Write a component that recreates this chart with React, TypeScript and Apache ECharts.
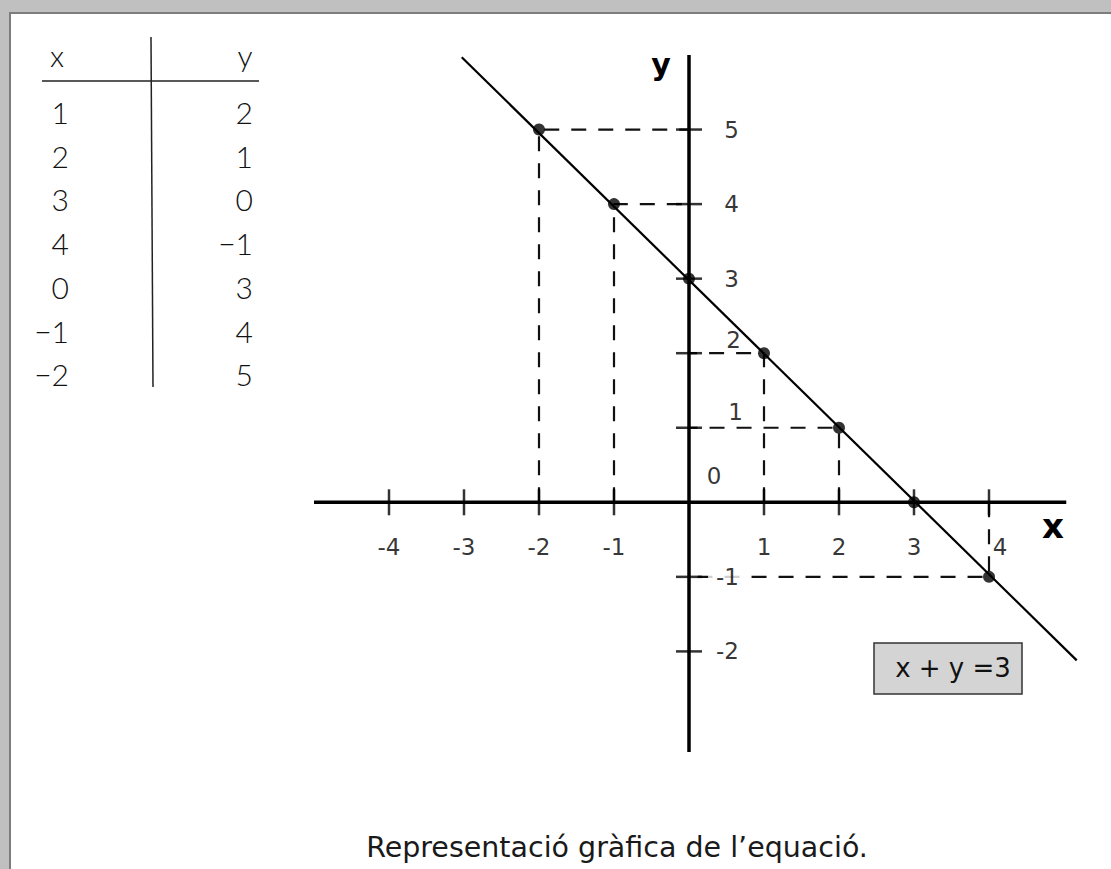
import React, { useEffect, useRef } from 'react';
import * as echarts from 'echarts';

// ---- data ----
const tableX = [1, 2, 3, 4, 0, -1, -2];
const tableY = [2, 1, 0, -1, 3, 4, 5];
const tableHeaders = ['x', 'y'];
const xTickValues = [-4, -3, -2, -1, 1, 2, 3, 4];
const yTickValues = [-2, -1, 1, 2, 3, 4, 5];
const lineXs = [-3.03, 5.17];
const lineYs = [5.97, -2.12];
const xAxisExtent = [-5, 5.03];
const yAxisExtent = [-3.35, 6];
const axisNames = ['x', 'y'];
const originLabel = '0';
const equationText = 'x + y =3';
const captionText = 'Representació gràfica de l’equació.';

export default function App() {
  const ref = useRef<HTMLDivElement>(null);

  useEffect(() => {
    const chart = echarts.init(ref.current!, null, { renderer: 'svg' });
    const FONT_TICK = '"DejaVu Sans", Verdana, sans-serif';
    const FONT_TABLE = 'Lato, "Noto Sans", sans-serif';
    const FONT_CAPTION = '"DejaVu Sans", "Noto Sans", sans-serif';
    const fmtTable = (v: number) => (v < 0 ? '\u2212' + Math.abs(v) : String(v));

    const points = tableX.map((x, i) => [x, tableY[i]]);

    const guideSeries = points
      .filter(([x, y]) => x !== 0 && y !== 0)
      .map(([x, y]) => ({
        type: 'line',
        data: [[x, 0], [x, y], [0, y]],
        symbol: 'none',
        silent: true,
        clip: false,
        z: 2,
        lineStyle: { color: '#111', width: 2.2, type: [15, 12] },
      }));

    // small per-label nudges, as in the printed figure
    const xLabelOffset = (v: number) => (v === 4 ? [11, 45] : [0, 45]);
    const yLabelOffset = (v: number) => (v === 2 ? [54, -13] : v === 1 ? [56, -16] : [52, 0]);

    const tableGraphics: any[] = [];
    const rowTop = 112;
    const rowStep = 43.7;
    tableGraphics.push({
      type: 'text', x: 57, y: 55,
      style: { text: tableHeaders[0], fontSize: 30, fontFamily: FONT_TABLE, fontWeight: 300, fill: '#111', align: 'center', verticalAlign: 'middle' },
    });
    tableGraphics.push({
      type: 'text', x: 245, y: 55,
      style: { text: tableHeaders[1], fontSize: 30, fontFamily: FONT_TABLE, fontWeight: 300, fill: '#111', align: 'center', verticalAlign: 'middle' },
    });
    tableX.forEach((v, i) => {
      tableGraphics.push({
        type: 'text', x: 69, y: rowTop + i * rowStep,
        style: { text: fmtTable(v), fontSize: 30, fontFamily: FONT_TABLE, fontWeight: 300, fill: '#111', align: 'right', verticalAlign: 'middle' },
      });
    });
    tableY.forEach((v, i) => {
      tableGraphics.push({
        type: 'text', x: 253, y: rowTop + i * rowStep,
        style: { text: fmtTable(v), fontSize: 30, fontFamily: FONT_TABLE, fontWeight: 300, fill: '#111', align: 'right', verticalAlign: 'middle' },
      });
    });
    tableGraphics.push({ type: 'line', shape: { x1: 42, y1: 81, x2: 259, y2: 81 }, style: { stroke: '#222', lineWidth: 1.5 } });
    tableGraphics.push({ type: 'line', shape: { x1: 151, y1: 37, x2: 153, y2: 387 }, style: { stroke: '#222', lineWidth: 1.5 } });

    const tickLabelStyle = { fontSize: 23, fontFamily: FONT_TICK, color: '#000' };

    const option: any = {
      animation: false,
      backgroundColor: '#ffffff',
      grid: { left: 314, top: 55, width: 765, height: 745.5, containLabel: false },
      xAxis: {
        type: 'value',
        min: -5,
        max: 5.2,
        interval: 1,
        axisLine: { show: false },
        axisTick: { show: false },
        splitLine: { show: false },
        axisLabel: { show: false },
      },
      yAxis: {
        type: 'value',
        min: -4,
        max: 6,
        interval: 1,
        axisLine: { show: false },
        axisTick: { show: false },
        splitLine: { show: false },
        axisLabel: { show: false },
      },
      series: [
        ...guideSeries,
        {
          type: 'line',
          name: 'x axis',
          data: [[xAxisExtent[0], 0], [xAxisExtent[1], 0]],
          symbol: 'none', silent: true, clip: false, z: 3,
          lineStyle: { color: '#000', width: 3.5 },
        },
        {
          type: 'line',
          name: 'y axis',
          data: [[0, yAxisExtent[0]], [0, yAxisExtent[1]]],
          symbol: 'none', silent: true, clip: false, z: 3,
          lineStyle: { color: '#000', width: 3.5 },
        },
        {
          type: 'scatter',
          name: 'x ticks',
          data: xTickValues.map((v) => ({
            value: [v, 0],
            label: { offset: xLabelOffset(v) },
          })),
          symbol: 'rect', symbolSize: [2.5, 26], silent: true, z: 3,
          itemStyle: { color: '#000' },
          label: {
            show: true,
            position: 'inside',
            align: 'center',
            verticalAlign: 'middle',
            formatter: (p: any) => String(p.value[0]),
            ...tickLabelStyle,
          },
        },
        {
          type: 'scatter',
          name: 'y ticks',
          data: yTickValues.map((v) => ({
            value: [0, v],
            label: { offset: yLabelOffset(v) },
          })),
          symbol: 'rect', symbolSize: [26, 2.5], silent: true, z: 3,
          itemStyle: { color: '#000' },
          label: {
            show: true,
            position: 'inside',
            align: 'right',
            verticalAlign: 'middle',
            backgroundColor: '#ffffff',
            padding: [0, 2, 0, 8],
            formatter: (p: any) => String(p.value[1]),
            ...tickLabelStyle,
          },
        },
        {
          type: 'line',
          name: 'x + y = 3',
          data: lineXs.map((x, i) => [x, lineYs[i]]),
          symbol: 'none', silent: true, clip: false, z: 4,
          lineStyle: { color: '#000', width: 2.2 },
        },
        {
          type: 'scatter',
          name: 'points',
          data: points,
          symbol: 'circle', symbolSize: 12, silent: true, z: 5,
          itemStyle: { color: '#000' },
        },
        {
          type: 'scatter',
          name: 'origin',
          data: [[0, 0]],
          symbolSize: 1, silent: true, z: 5,
          itemStyle: { color: 'rgba(0,0,0,0)' },
          label: {
            show: true, formatter: originLabel, position: 'inside', offset: [25, -26],
            ...tickLabelStyle,
          },
        },
      ],
      graphic: [
        { type: 'rect', shape: { x: 0, y: 0, width: 1111, height: 12 }, style: { fill: '#c0c0c0' }, silent: true },
        { type: 'rect', shape: { x: 0, y: 0, width: 9, height: 869 }, style: { fill: '#c0c0c0' }, silent: true },
        { type: 'rect', shape: { x: 9, y: 12, width: 1102, height: 2 }, style: { fill: '#7d7d7d' }, silent: true },
        { type: 'rect', shape: { x: 9, y: 12, width: 2, height: 857 }, style: { fill: '#7d7d7d' }, silent: true },
        ...tableGraphics,
        {
          type: 'text', x: 661, y: 64,
          style: { text: axisNames[1], fontSize: 30, fontWeight: 'bold', fontFamily: FONT_TICK, fill: '#000', align: 'center', verticalAlign: 'middle' },
        },
        {
          type: 'text', x: 1053, y: 526,
          style: { text: axisNames[0], fontSize: 34, fontWeight: 'bold', fontFamily: FONT_TICK, fill: '#000', align: 'center', verticalAlign: 'middle' },
        },
        {
          type: 'rect', shape: { x: 874, y: 643, width: 148, height: 51 },
          style: { fill: '#d4d4d4', stroke: '#333', lineWidth: 1.5 }, z: 10,
        },
        {
          type: 'text', x: 953, y: 668, z: 11,
          style: { text: equationText, fontSize: 26, fontFamily: FONT_TICK, fill: '#111', align: 'center', verticalAlign: 'middle' },
        },
        {
          type: 'text', x: 617, y: 847,
          style: { text: captionText, fontSize: 28.5, fontFamily: FONT_CAPTION, fill: '#1a1a1a', align: 'center', verticalAlign: 'middle' },
        },
      ],
    };

    chart.setOption(option);
    return () => chart.dispose();
  }, []);

  return (
    <div
      ref={ref}
      style={{ position: 'absolute', left: 0, top: 0, width: 1111, height: 869, background: '#fff' }}
    />
  );
}
